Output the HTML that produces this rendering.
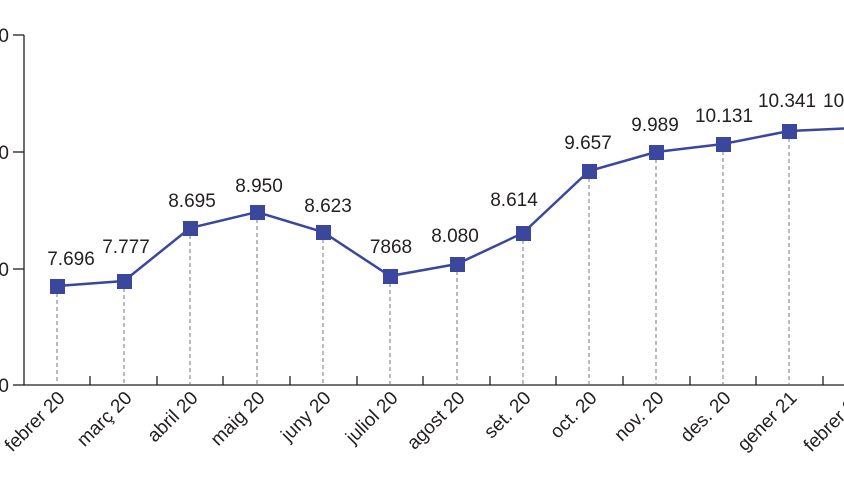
<!DOCTYPE html>
<html><head><meta charset="utf-8"><style>
html,body{margin:0;padding:0;background:#fff;}
svg text{font-family:"Liberation Sans",sans-serif;fill:#231f20;}
</style></head><body>
<svg width="844" height="474" viewBox="0 0 844 474" xmlns="http://www.w3.org/2000/svg">
<g stroke="#231f20" stroke-width="1.3" fill="none">
<line x1="24" y1="35" x2="24" y2="385"/>
<line x1="24" y1="385" x2="844" y2="385"/>
<line x1="13" y1="35" x2="24" y2="35"/>
<line x1="13" y1="152" x2="24" y2="152"/>
<line x1="13" y1="269" x2="24" y2="269"/>
<line x1="13" y1="385" x2="24" y2="385"/>
<line x1="90" y1="385" x2="90" y2="376"/><line x1="157" y1="385" x2="157" y2="376"/><line x1="223" y1="385" x2="223" y2="376"/><line x1="290" y1="385" x2="290" y2="376"/><line x1="357" y1="385" x2="357" y2="376"/><line x1="423" y1="385" x2="423" y2="376"/><line x1="490" y1="385" x2="490" y2="376"/><line x1="556" y1="385" x2="556" y2="376"/><line x1="623" y1="385" x2="623" y2="376"/><line x1="690" y1="385" x2="690" y2="376"/><line x1="756" y1="385" x2="756" y2="376"/><line x1="823" y1="385" x2="823" y2="376"/>
</g>
<g font-size="19">
<text x="9" y="42" text-anchor="end">0</text>
<text x="9" y="159" text-anchor="end">0</text>
<text x="9" y="276" text-anchor="end">0</text>
<text x="9" y="392" text-anchor="end">0</text>
</g>
<g stroke="#777" stroke-width="1" stroke-dasharray="4,3">
<line x1="57" y1="286" x2="57" y2="385"/><line x1="124" y1="281" x2="124" y2="385"/><line x1="190" y1="228" x2="190" y2="385"/><line x1="257" y1="212" x2="257" y2="385"/><line x1="323" y1="232" x2="323" y2="385"/><line x1="390" y1="276" x2="390" y2="385"/><line x1="457" y1="264" x2="457" y2="385"/><line x1="523" y1="233" x2="523" y2="385"/><line x1="589" y1="171" x2="589" y2="385"/><line x1="656" y1="152" x2="656" y2="385"/><line x1="723" y1="144" x2="723" y2="385"/><line x1="789" y1="131" x2="789" y2="385"/><line x1="856" y1="128" x2="856" y2="385"/>
</g>
<polyline fill="none" stroke="#3a479c" stroke-width="2.5" points="57,286 124,281 190,228 257,212 323,232 390,276 457,264 523,233 589,171 656,152 723,144 789,131 856,128"/>
<g fill="#3a479c">
<rect x="50" y="279" width="15" height="15"/><rect x="117" y="274" width="15" height="15"/><rect x="183" y="221" width="15" height="15"/><rect x="250" y="205" width="15" height="15"/><rect x="316" y="225" width="15" height="15"/><rect x="383" y="269" width="15" height="15"/><rect x="450" y="257" width="15" height="15"/><rect x="516" y="226" width="15" height="15"/><rect x="582" y="164" width="15" height="15"/><rect x="649" y="145" width="15" height="15"/><rect x="716" y="137" width="15" height="15"/><rect x="782" y="124" width="15" height="15"/>
</g>
<g font-size="19" text-anchor="middle">
<text x="71" y="265">7.696</text><text x="126" y="253">7.777</text><text x="192" y="207">8.695</text><text x="259" y="192">8.950</text><text x="328" y="212">8.623</text><text x="391" y="253">7868</text><text x="455" y="242">8.080</text><text x="514" y="206">8.614</text><text x="588" y="149">9.657</text><text x="655" y="131">9.989</text><text x="724" y="122">10.131</text><text x="787" y="107">10.341</text><text x="823" y="107" text-anchor="start">10</text>
</g>
<g font-size="19" text-anchor="end">
<text transform="translate(66,399) rotate(-45)">febrer 20</text>
<text transform="translate(133,399) rotate(-45)">març 20</text>
<text transform="translate(199,399) rotate(-45)">abril 20</text>
<text transform="translate(266,399) rotate(-45)">maig 20</text>
<text transform="translate(332,399) rotate(-45)">juny 20</text>
<text transform="translate(399,399) rotate(-45)">juliol 20</text>
<text transform="translate(466,399) rotate(-45)">agost 20</text>
<text transform="translate(532,399) rotate(-45)">set. 20</text>
<text transform="translate(598,399) rotate(-45)">oct. 20</text>
<text transform="translate(665,399) rotate(-45)">nov. 20</text>
<text transform="translate(732,399) rotate(-45)">des. 20</text>
<text transform="translate(798,399) rotate(-45)">gener 21</text>
<text transform="translate(865,399) rotate(-45)">febrer 21</text>
</g>
</svg>
</body></html>
